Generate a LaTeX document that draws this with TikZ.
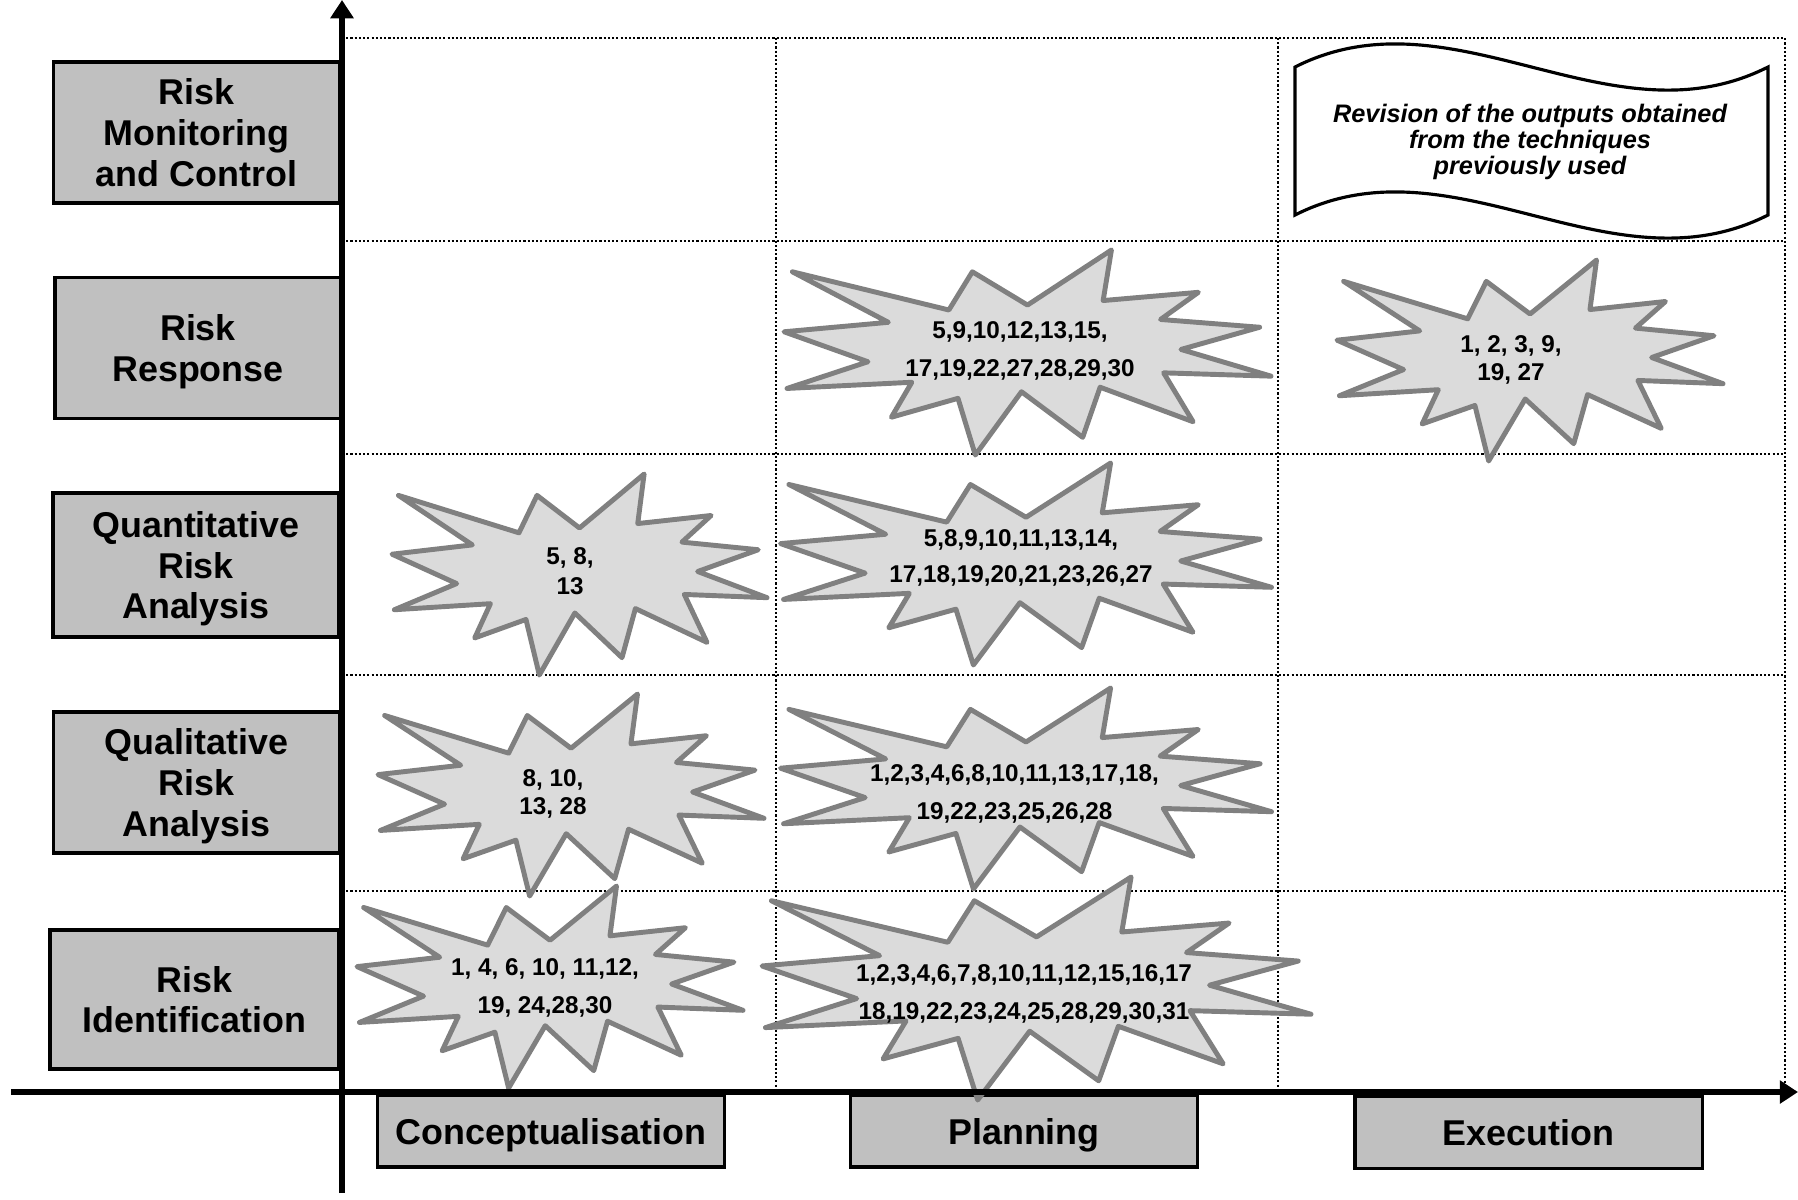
\documentclass[tikz,border=0pt]{standalone}
\usepackage{fontspec}
\setmainfont{Liberation Sans}
\usetikzlibrary{arrows.meta}
\definecolor{labelgray}{HTML}{C0C0C0}
\definecolor{burstfill}{HTML}{DBDBDB}
\definecolor{burstline}{HTML}{808080}
\tikzset{%
    >={Triangle[width=6.4pt,length=5.2pt]},
    rowlabel/.style={draw, line width=1pt, fill=labelgray, minimum width=2.86cm,
        minimum height=1.41cm, inner sep=0pt, align=center, text depth=0pt,
        font=\fontsize{10.2}{11.6}\selectfont\bfseries},
    phaselabel/.style={draw, line width=0.9pt, fill=labelgray, minimum width=3.47cm,
        minimum height=0.72cm, inner sep=0pt, text depth=0pt,
        font=\fontsize{10.2}{11.6}\selectfont\bfseries},
    burst/.style={draw=burstline, fill=burstfill, line width=1.4pt, line join=round},
    bursttext/.style={align=center, inner sep=0pt, font=\fontsize{6.9}{10.7}\selectfont\bfseries},
    gridline/.style={line width=0.45pt, dash pattern=on 0.6pt off 0.6pt},
    phaseaxis/.style={line width=1.9pt, ->},
    wave/.style={draw, line width=0.9pt, fill=white},
}
% explosion shape: centre, width, height
\newcommand{\explosion}[3]{%
    \begin{scope}[shift={#1}, xscale=#2, yscale=#3]
        \draw[burst] (0,-0.2315) -- (0.1723,-0.5) -- (0.1553,-0.2535) -- (0.3509,-0.2937)
            -- (0.2732,-0.1613) -- (0.4767,-0.1233) -- (0.3151,-0.0150) -- (0.5,0.1153)
            -- (0.2795,0.0992) -- (0.3400,0.3377) -- (0.1491,0.1693) -- (0.1133,0.4138)
            -- (-0.0124,0.1914) -- (-0.1072,0.5) -- (-0.1428,0.2235) -- (-0.2795,0.3156)
            -- (-0.2376,0.1452) -- (-0.4938,0.1753) -- (-0.3277,0.0451) -- (-0.5,-0.1012)
            -- (-0.2858,-0.1474) -- (-0.4829,-0.3938) -- (-0.1615,-0.2074) -- (-0.1133,-0.3938)
            -- cycle;
    \end{scope}}

\begin{document}
\begin{tikzpicture}[x=0.01cm, y=-0.01cm]
    \path[fill=white, use as bounding box] (0,0) rectangle (1798,1199);

    \draw[gridline] (342,38) -- (1785,38) -- (1785,1092);
    \foreach \y in {241,454,675,891}
        \draw[gridline] (342,\y) -- (1785,\y);
    \foreach \x in {776,1278}
        \draw[gridline] (\x,38) -- (\x,1092);

    \node[rowlabel] (monitor) at (196.5,132.5) {Risk\\Monitoring\\and Control};
    \node[rowlabel] (response) at (198,348) {Risk\\Response};
    \node[rowlabel, minimum height=1.44cm] (quant) at (196,565) {Quantitative\\Risk\\Analysis};
    \node[rowlabel] (qual) at (196.5,782.5) {Qualitative\\Risk\\Analysis};
    \node[rowlabel, minimum width=2.89cm, minimum height=1.39cm] (ident) at (194.5,999.5) {Risk\\Identification};

    \node[phaselabel] (concept) at (551,1131) {Conceptualisation};
    \node[phaselabel] (plan) at (1024,1131) {Planning};
    \node[phaselabel] (exec) at (1528.5,1132.5) {Execution};

    \draw[wave] (1295,67) .. controls (1453,-13) and (1610,147) .. (1768,67) -- (1768,215)
        .. controls (1610,295) and (1453,135) .. (1295,215) -- cycle;
    \node[align=center, inner sep=0pt, font=\fontsize{7.2}{7.3}\selectfont\bfseries\itshape]
        (revision) at (1530,142) {Revision of the outputs obtained\\from the techniques\\previously used};

    \explosion{(1027.5,352.5)}{487}{205}
    \node[bursttext] (rrplan) at (1020,351) {5,9,10,12,13,15,\\17,19,22,27,28,29,30};
    \explosion{(1530,360.5)}{386}{201}
    \node[bursttext, font=\fontsize{6.9}{8}\selectfont\bfseries] (rrexec) at (1511,360) {1, 2, 3, 9,\\19, 27};

    \explosion{(579.5,574.5)}{375}{201}
    \node[bursttext, font=\fontsize{6.9}{8.5}\selectfont\bfseries] (quantconcept) at (570,571) {5, 8,\\13};
    \explosion{(1026,564)}{491}{202}
    \node[bursttext, font=\fontsize{6.9}{10.3}\selectfont\bfseries] (quantplan) at (1021,558) {5,8,9,10,11,13,14,\\17,18,19,20,21,23,26,27};

    \explosion{(571,795)}{386}{202}
    \node[bursttext, font=\fontsize{6.9}{8}\selectfont\bfseries] (qualconcept) at (553,794) {8, 10,\\13, 28};
    \explosion{(1026,788.5)}{491}{201}
    \node[bursttext] (qualplan) at (1014.5,794) {1,2,3,4,6,8,10,11,13,17,18,\\19,22,23,25,26,28};

    \explosion{(550,987)}{386}{202}
    \node[bursttext, font=\fontsize{6.9}{11}\selectfont\bfseries] (identconcept) at (545,988) {1, 4, 6, 10, 11,12,\\19, 24,28,30};
    \explosion{(1036.5,988.5)}{549}{223}
    \node[bursttext] (identplan) at (1024,994) {1,2,3,4,6,7,8,10,11,12,15,16,17\\18,19,22,23,24,25,28,29,30,31};

    \coordinate (ybottom) at (342,1193);
    \coordinate (ytop) at (342,0);
    \coordinate (xleft) at (11,1092);
    \coordinate (xright) at (1798,1092);
    \draw[phaseaxis] (ybottom) -- (ytop);
    \draw[phaseaxis] (xleft) -- (xright);
\end{tikzpicture}
\end{document}
